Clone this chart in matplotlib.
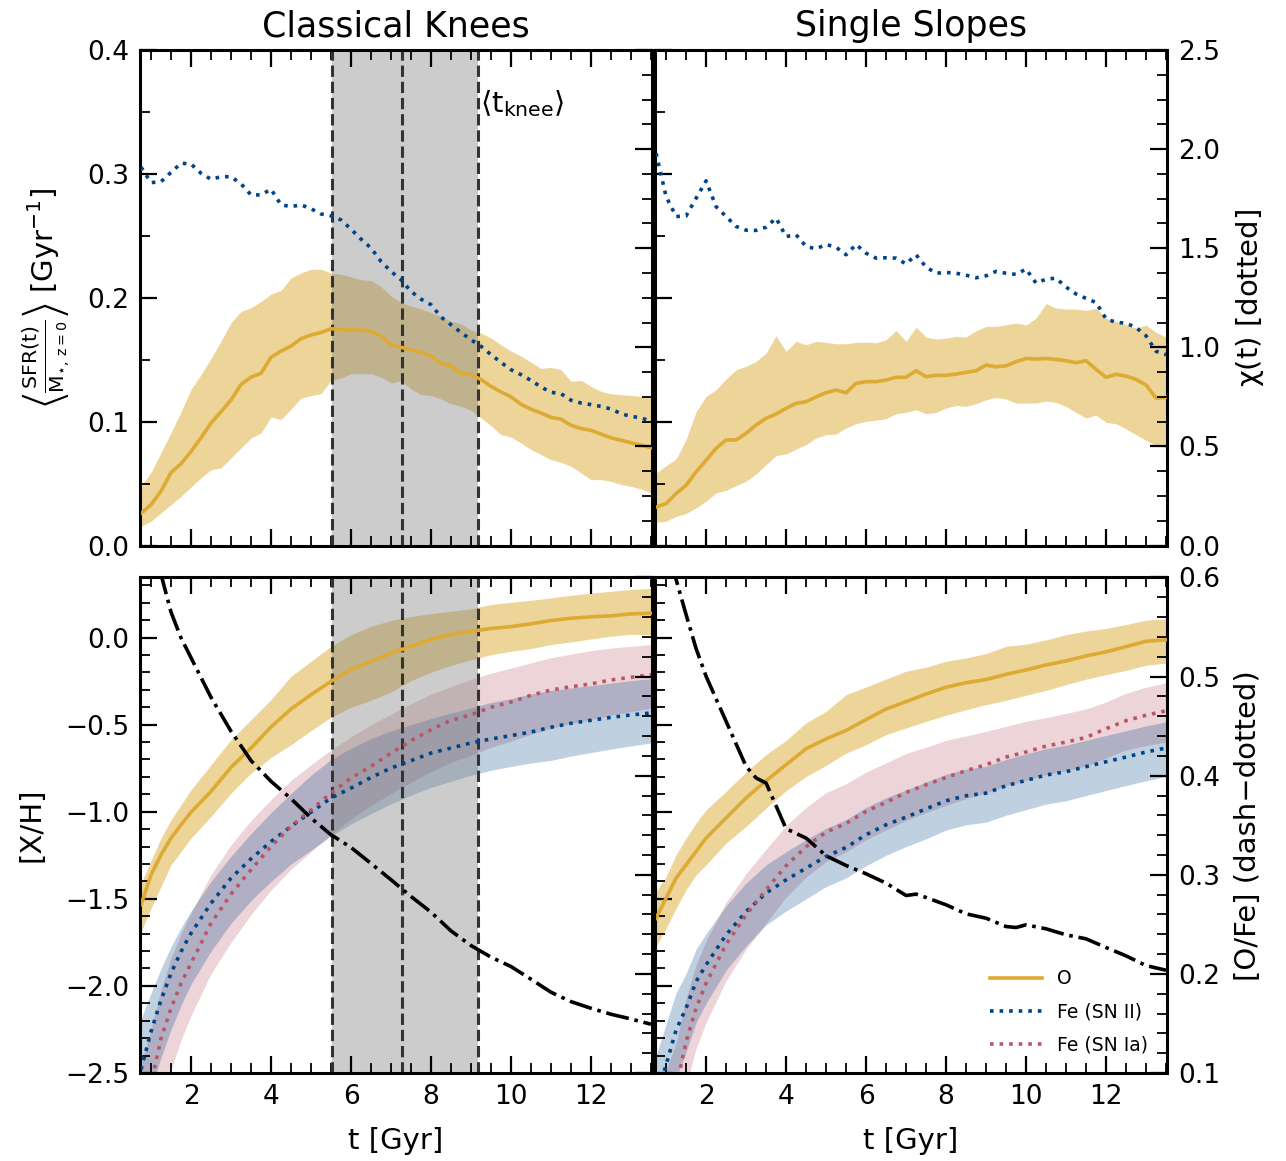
import numpy as np
import matplotlib
matplotlib.use('Agg')
import matplotlib.pyplot as plt
from matplotlib.ticker import MultipleLocator

plt.rcParams['font.family'] = ['DejaVu Sans']
plt.rcParams['mathtext.fontset'] = 'dejavusans'
plt.rcParams['mathtext.default'] = 'regular'

# colours (Tol high-contrast)
c_o = '#DDAA33'
c_fe2 = '#004488'
c_fe1a = '#BB5566'

# ---- top row: SFR / M* and chi(t), 0.25 Gyr sampling ----
t_top = [0.75, 1.0, 1.25, 1.5, 1.75, 2.0, 2.25, 2.5, 2.75, 3.0, 3.25, 3.5, 3.75,
         4.0, 4.25, 4.5, 4.75, 5.0, 5.25, 5.5, 5.75, 6.0, 6.25, 6.5, 6.75, 7.0,
         7.25, 7.5, 7.75, 8.0, 8.25, 8.5, 8.75, 9.0, 9.25, 9.5, 9.75, 10.0, 10.25,
         10.5, 10.75, 11.0, 11.25, 11.5, 11.75, 12.0, 12.25, 12.5, 12.75, 13.0,
         13.25, 13.5]

# classical knees
sfr_ck_med = [0.026, 0.033, 0.044, 0.059, 0.066, 0.076, 0.087, 0.099, 0.108, 0.1175,
              0.130, 0.136, 0.139, 0.152, 0.157, 0.161, 0.167, 0.170, 0.172, 0.175,
              0.1745, 0.174, 0.174, 0.173, 0.169, 0.162, 0.160, 0.158, 0.156, 0.153,
              0.147, 0.145, 0.139, 0.138, 0.134, 0.1285, 0.124, 0.120, 0.114, 0.110,
              0.107, 0.1035, 0.102, 0.097, 0.0945, 0.093, 0.090, 0.087, 0.085, 0.083,
              0.081, 0.079]
sfr_ck_hi = [0.048, 0.059, 0.075, 0.091, 0.108, 0.126, 0.138, 0.151, 0.165, 0.180,
             0.189, 0.192, 0.197, 0.203, 0.206, 0.216, 0.220, 0.223, 0.223, 0.220,
             0.219, 0.217, 0.2145, 0.214, 0.209, 0.2015, 0.196, 0.1935, 0.191, 0.188,
             0.185, 0.181, 0.179, 0.174, 0.1715, 0.1675, 0.162, 0.157, 0.153, 0.148,
             0.143, 0.1438, 0.142, 0.1325, 0.1333, 0.1285, 0.1245, 0.1225, 0.1218,
             0.1212, 0.1204, 0.119]
sfr_ck_lo = [0.0156, 0.0196, 0.0264, 0.033, 0.0397, 0.0473, 0.0546, 0.0613, 0.0626,
             0.0707, 0.0788, 0.0868, 0.0909, 0.1038, 0.1017, 0.1102, 0.119, 0.121,
             0.1226, 0.1333, 0.1352, 0.1387, 0.1387, 0.1387, 0.136, 0.1312, 0.1333,
             0.1263, 0.1218, 0.1212, 0.1183, 0.1145, 0.1124, 0.1092, 0.103, 0.0968,
             0.0895, 0.0876, 0.0828, 0.0774, 0.0734, 0.0693, 0.0672, 0.064, 0.0586,
             0.0532, 0.0532, 0.0519, 0.0492, 0.0478, 0.0457, 0.0425]
chi_ck = [1.909, 1.831, 1.836, 1.883, 1.929, 1.925, 1.878, 1.848, 1.861, 1.861,
          1.825, 1.769, 1.769, 1.798, 1.719, 1.710, 1.719, 1.699, 1.673, 1.663,
          1.643, 1.596, 1.546, 1.501, 1.433, 1.383, 1.341, 1.282, 1.243, 1.215,
          1.153, 1.114, 1.075, 1.038, 1.005, 0.963, 0.924, 0.887, 0.862, 0.833,
          0.800, 0.773, 0.766, 0.733, 0.719, 0.711, 0.702, 0.689, 0.665, 0.652,
          0.644, 0.627]

# single slopes
sfr_ss_med = [0.031, 0.0339, 0.0419, 0.0487, 0.0594, 0.0688, 0.0785, 0.0852, 0.0852,
              0.0906, 0.0973, 0.1027, 0.1062, 0.1108, 0.1148, 0.1161, 0.120, 0.1234,
              0.1255, 0.1234, 0.1309, 0.1323, 0.1323, 0.1336, 0.1358, 0.1358, 0.1411,
              0.1363, 0.1374, 0.1374, 0.1384, 0.1398, 0.1411, 0.1457, 0.1443, 0.1451,
              0.1484, 0.151, 0.1505, 0.151, 0.1502, 0.1492, 0.1476, 0.1492, 0.1422,
              0.1358, 0.1382, 0.1368, 0.1341, 0.1296, 0.119, 0.1196]
sfr_ss_hi = [0.0586, 0.0645, 0.0699, 0.0855, 0.108, 0.1204, 0.1258, 0.1344, 0.1419,
             0.1446, 0.1486, 0.1553, 0.1693, 0.1567, 0.1648, 0.1621, 0.1648, 0.164,
             0.1629, 0.1629, 0.164, 0.1642, 0.1637, 0.1661, 0.1736, 0.1648, 0.1763,
             0.1683, 0.1667, 0.1675, 0.1688, 0.1683, 0.1734, 0.1769, 0.1769, 0.1782,
             0.1796, 0.178, 0.1836, 0.1952, 0.1917, 0.1909, 0.1909, 0.1898, 0.1914,
             0.1836, 0.1809, 0.1782, 0.1755, 0.178, 0.1721, 0.1683]
sfr_ss_lo = [0.0188, 0.0196, 0.0236, 0.0258, 0.0304, 0.0358, 0.0425, 0.0446, 0.0484,
             0.0519, 0.0578, 0.0653, 0.0726, 0.0739, 0.0779, 0.0814, 0.0868, 0.0895,
             0.09, 0.0949, 0.0984, 0.1002, 0.1013, 0.1024, 0.1064, 0.1075, 0.1096,
             0.1064, 0.1075, 0.111, 0.1131, 0.1123, 0.1145, 0.1177, 0.1196, 0.1182,
             0.115, 0.115, 0.115, 0.1166, 0.1155, 0.1123, 0.1075, 0.1029, 0.1053,
             0.0994, 0.0984, 0.0941, 0.0895, 0.085, 0.0807, 0.0788]
chi_ss = [1.979, 1.761, 1.660, 1.663, 1.752, 1.840, 1.710, 1.660, 1.610, 1.591,
          1.590, 1.606, 1.652, 1.559, 1.568, 1.509, 1.497, 1.519, 1.505, 1.467,
          1.519, 1.475, 1.450, 1.452, 1.450, 1.421, 1.467, 1.405, 1.374, 1.378,
          1.374, 1.364, 1.351, 1.361, 1.383, 1.374, 1.368, 1.395, 1.324, 1.344,
          1.349, 1.304, 1.269, 1.247, 1.226, 1.144, 1.126, 1.122, 1.100, 1.058,
          0.980, 0.963]

# ---- bottom row: abundances, 0.5 Gyr sampling ----
t_bot = [0.75, 1.0, 1.25, 1.5, 1.75, 2.0, 2.5, 3.0, 3.5, 4.0, 4.5, 5.0, 5.5, 6.0,
         6.5, 7.0, 7.5, 8.0, 8.5, 9.0, 9.5, 10.0, 10.5, 11.0, 11.5, 12.0, 12.5,
         13.0, 13.5]

# classical knees
oh_ck_med = [-1.534, -1.362, -1.247, -1.151, -1.075, -1.002, -0.883, -0.745, -0.634,
             -0.513, -0.410, -0.328, -0.251, -0.184, -0.136, -0.090, -0.050, -0.011,
             0.017, 0.036, 0.052, 0.063, 0.079, 0.098, 0.111, 0.119, 0.125, 0.136, 0.140]
oh_ck_hi = [-1.410, -1.282, -1.151, -1.046, -0.960, -0.874, -0.730, -0.586, -0.471,
            -0.356, -0.222, -0.136, -0.050, 0.017, 0.065, 0.098, 0.121, 0.138, 0.151,
            0.165, 0.190, 0.203, 0.214, 0.228, 0.243, 0.255, 0.266, 0.276, 0.282]
oh_ck_lo = [-1.688, -1.554, -1.429, -1.305, -1.228, -1.151, -1.027, -0.893, -0.778,
            -0.688, -0.615, -0.534, -0.458, -0.400, -0.360, -0.312, -0.247, -0.199,
            -0.159, -0.128, -0.098, -0.079, -0.063, -0.040, -0.025, -0.008, 0.008,
            0.019, 0.017]
fe2_ck_med = [-2.48, -2.262, -2.080, -1.927, -1.803, -1.697, -1.525, -1.381, -1.270,
              -1.171, -1.084, -1.002, -0.921, -0.864, -0.803, -0.749, -0.707, -0.663,
              -0.634, -0.605, -0.582, -0.563, -0.542, -0.515, -0.492, -0.475, -0.458,
              -0.444, -0.433]
fe2_ck_hi = [-2.19, -2.04, -1.90, -1.775, -1.665, -1.57, -1.40, -1.255, -1.125, -1.005,
             -0.895, -0.79, -0.70, -0.635, -0.58, -0.535, -0.50, -0.465, -0.433, -0.404,
             -0.372, -0.351, -0.324, -0.303, -0.289, -0.276, -0.261, -0.247, -0.236]
fe2_ck_lo = [-2.85, -2.60, -2.41, -2.25, -2.11, -1.99, -1.80, -1.64, -1.51, -1.40,
             -1.30, -1.22, -1.14, -1.07, -1.01, -0.955, -0.905, -0.86, -0.825, -0.79,
             -0.762, -0.74, -0.72, -0.705, -0.68, -0.66, -0.64, -0.622, -0.605]
fe1a_ck_med = [-2.85, -2.56, -2.301, -2.128, -1.985, -1.870, -1.640, -1.473, -1.333,
               -1.199, -1.084, -0.989, -0.893, -0.806, -0.739, -0.663, -0.592, -0.529,
               -0.475, -0.443, -0.400, -0.370, -0.331, -0.301, -0.282, -0.266, -0.243,
               -0.228, -0.213]
fe1a_ck_hi = [-2.45, -2.25, -2.02, -1.84, -1.70, -1.58, -1.36, -1.19, -1.05, -0.93,
              -0.82, -0.73, -0.645, -0.57, -0.50, -0.44, -0.38, -0.325, -0.28, -0.24,
              -0.205, -0.175, -0.145, -0.115, -0.095, -0.075, -0.06, -0.05, -0.04]
fe1a_ck_lo = [-3.2, -2.95, -2.68, -2.48, -2.31, -2.17, -1.93, -1.75, -1.59, -1.45,
              -1.33, -1.23, -1.13, -1.04, -0.965, -0.895, -0.83, -0.77, -0.715, -0.675,
              -0.63, -0.595, -0.555, -0.52, -0.495, -0.47, -0.445, -0.425, -0.405]
ofe_ck = [0.72, 0.66, 0.603, 0.565, 0.539, 0.519, 0.479, 0.4448, 0.4152, 0.3943,
          0.3768, 0.3573, 0.3404, 0.3276, 0.3114, 0.295, 0.2781, 0.2623, 0.2434,
          0.2286, 0.2169, 0.2074, 0.1946, 0.1815, 0.172, 0.1653, 0.1593, 0.1545, 0.1492]

# single slopes
oh_ss_med = [-1.611, -1.496, -1.381, -1.305, -1.228, -1.151, -1.036, -0.921, -0.822,
             -0.730, -0.638, -0.582, -0.533, -0.471, -0.410, -0.368, -0.324, -0.285,
             -0.259, -0.241, -0.211, -0.186, -0.157, -0.134, -0.105, -0.082, -0.052,
             -0.021, -0.013]
oh_ss_hi = [-1.458, -1.372, -1.247, -1.151, -1.065, -0.989, -0.883, -0.772, -0.672,
            -0.590, -0.490, -0.423, -0.328, -0.284, -0.238, -0.193, -0.170, -0.136,
            -0.117, -0.092, -0.050, -0.038, -0.013, 0.017, 0.038, 0.052, 0.075, 0.100, 0.107]
oh_ss_lo = [-1.774, -1.669, -1.554, -1.448, -1.362, -1.305, -1.180, -1.084, -0.979,
            -0.879, -0.797, -0.734, -0.663, -0.615, -0.557, -0.519, -0.481, -0.446,
            -0.414, -0.385, -0.360, -0.331, -0.303, -0.270, -0.239, -0.213, -0.188,
            -0.159, -0.146]
fe2_ss_med = [-2.646, -2.454, -2.253, -2.128, -1.975, -1.879, -1.707, -1.573, -1.467,
              -1.391, -1.324, -1.257, -1.205, -1.132, -1.075, -1.031, -0.983, -0.937,
              -0.908, -0.893, -0.851, -0.820, -0.789, -0.770, -0.741, -0.713, -0.686,
              -0.657, -0.634]
fe2_ss_hi = [-2.40, -2.22, -2.04, -1.93, -1.79, -1.70, -1.54, -1.41, -1.305, -1.23,
             -1.16, -1.095, -1.045, -0.975, -0.92, -0.875, -0.83, -0.785, -0.755, -0.74,
             -0.70, -0.668, -0.638, -0.618, -0.59, -0.562, -0.535, -0.507, -0.484]
fe2_ss_lo = [-2.95, -2.75, -2.53, -2.38, -2.21, -2.10, -1.91, -1.77, -1.65, -1.57,
             -1.50, -1.43, -1.38, -1.31, -1.25, -1.20, -1.155, -1.105, -1.075, -1.06,
             -1.02, -0.988, -0.956, -0.937, -0.907, -0.878, -0.85, -0.822, -0.798]
fe1a_ss_med = [-3.0, -2.75, -2.588, -2.320, -2.128, -1.985, -1.761, -1.592, -1.448,
               -1.310, -1.201, -1.117, -1.067, -0.998, -0.946, -0.889, -0.845, -0.803,
               -0.764, -0.730, -0.686, -0.657, -0.623, -0.600, -0.573, -0.523, -0.477,
               -0.446, -0.420]
fe1a_ss_hi = [-2.70, -2.48, -2.33, -2.07, -1.88, -1.74, -1.52, -1.355, -1.215, -1.08,
              -0.975, -0.89, -0.84, -0.772, -0.72, -0.665, -0.63, -0.59, -0.565, -0.538,
              -0.51, -0.48, -0.46, -0.435, -0.41, -0.37, -0.32, -0.285, -0.26]
fe1a_ss_lo = [-3.3, -3.05, -2.86, -2.57, -2.36, -2.21, -1.97, -1.79, -1.64, -1.49,
              -1.375, -1.285, -1.23, -1.16, -1.105, -1.05, -1.005, -0.963, -0.925,
              -0.892, -0.85, -0.82, -0.787, -0.765, -0.737, -0.69, -0.645, -0.62, -0.60]
t_ofe_ss = [0.75, 1.0, 1.25, 1.5, 1.75, 2.0, 2.5, 3.0, 3.25, 3.5, 4.0, 4.5, 5.0, 5.5,
            6.0, 6.5, 7.0, 7.25, 7.5, 8.0, 8.5, 9.0, 9.5, 9.75, 10.0, 10.5, 11.0, 11.5,
            12.0, 12.5, 13.0, 13.5]
ofe_ss = [0.73, 0.66, 0.598, 0.5626, 0.5283, 0.5003, 0.4549, 0.4094, 0.3977, 0.3926,
          0.3465, 0.337, 0.3192, 0.3094, 0.301, 0.2916, 0.2791, 0.2805, 0.2771, 0.2697,
          0.2606, 0.2562, 0.2478, 0.2468, 0.2495, 0.2455, 0.2394, 0.2354, 0.2266,
          0.2182, 0.2084, 0.2037]

# knee times for the classical-knee sample
knee_lo, knee_mid, knee_hi = 5.53, 7.28, 9.18

fig, axes = plt.subplots(2, 2, figsize=(12.86, 11.61), dpi=100, sharex=True)
fig.subplots_adjust(left=0.1089, right=0.9075, top=0.9569, bottom=0.0758,
                    wspace=0.006, hspace=0.0645)

lw = 2.6
tick_fs = 19
lab_fs = 21


def style_main(ax, major, minor):
    ax.yaxis.set_major_locator(MultipleLocator(major))
    ax.yaxis.set_minor_locator(MultipleLocator(minor))
    ax.xaxis.set_major_locator(MultipleLocator(2))
    ax.xaxis.set_minor_locator(MultipleLocator(0.5))
    ax.tick_params(which='both', direction='in', top=True, right=False, labelsize=tick_fs)
    ax.tick_params(which='major', length=12, width=1.6, pad=8)
    ax.tick_params(which='minor', length=7, width=1.3)
    for s in ax.spines.values():
        s.set_linewidth(2.2)


def style_twin(tx, major, minor):
    tx.yaxis.set_major_locator(MultipleLocator(major))
    tx.yaxis.set_minor_locator(MultipleLocator(minor))
    tx.tick_params(which='both', direction='in', right=True, left=False, labelsize=tick_fs)
    tx.tick_params(which='major', length=12, width=1.6, pad=8)
    tx.tick_params(which='minor', length=7, width=1.3)


def knee_band(ax):
    ax.axvspan(knee_lo, knee_hi, color='gray', alpha=0.4, lw=0, zorder=1.5)
    for k in (knee_lo, knee_mid, knee_hi):
        ax.axvline(k, color='#333333', ls='--', lw=2.2, zorder=1.6)


# top row
for col, (med, hi, lo, chi) in enumerate([(sfr_ck_med, sfr_ck_hi, sfr_ck_lo, chi_ck),
                                          (sfr_ss_med, sfr_ss_hi, sfr_ss_lo, chi_ss)]):
    ax = axes[0, col]
    ax.fill_between(t_top, lo, hi, color=c_o, alpha=0.5, lw=0, zorder=1)
    ax.plot(t_top, med, color=c_o, lw=lw, zorder=3)
    ax.set_ylim(0, 0.4)
    ax.set_xlim(0.725, 13.525)
    style_main(ax, 0.1, 0.05)
    tx = ax.twinx()
    tx.plot(t_top, chi, color=c_fe2, ls=':', lw=lw)
    tx.set_ylim(0, 2.5)
    style_twin(tx, 0.5, 0.125)
    if col == 0:
        knee_band(ax)
        tx.tick_params(labelright=False)
        ax.set_ylabel(r'$\left\langle\frac{\mathrm{SFR}(t)}{M_{\star,\,z=0}}\right\rangle$ [Gyr$^{-1}$]',
                      fontsize=lab_fs, labelpad=10)
        ax.text(9.22, 0.357, r'$\langle t_{\rm knee}\rangle$', fontsize=21,
                ha='left', va='center')
        ax.set_title('Classical Knees', fontsize=25, pad=10)
    else:
        ax.tick_params(labelleft=False)
        tx.set_ylabel(r'$\chi(t)$ [dotted]', fontsize=lab_fs, labelpad=10)
        ax.set_title('Single Slopes', fontsize=25, pad=10)

# bottom row
bot = [(oh_ck_med, oh_ck_hi, oh_ck_lo, fe2_ck_med, fe2_ck_hi, fe2_ck_lo,
        fe1a_ck_med, fe1a_ck_hi, fe1a_ck_lo, t_bot, ofe_ck),
       (oh_ss_med, oh_ss_hi, oh_ss_lo, fe2_ss_med, fe2_ss_hi, fe2_ss_lo,
        fe1a_ss_med, fe1a_ss_hi, fe1a_ss_lo, t_ofe_ss, ofe_ss)]
for col, d in enumerate(bot):
    (om, oh, ol, f2m, f2h, f2l, f1m, f1h, f1l, tof, ofe) = d
    ax = axes[1, col]
    ax.fill_between(t_bot, ol, oh, color=c_o, alpha=0.5, lw=0, zorder=1)
    ax.fill_between(t_bot, f1l, f1h, color=c_fe1a, alpha=0.25, lw=0, zorder=1)
    ax.fill_between(t_bot, f2l, f2h, color=c_fe2, alpha=0.25, lw=0, zorder=1)
    ax.plot(t_bot, om, color=c_o, lw=lw, zorder=3, label='O')
    ax.plot(t_bot, f2m, color=c_fe2, ls=':', lw=lw, zorder=3, label='Fe (SN II)')
    ax.plot(t_bot, f1m, color=c_fe1a, ls=':', lw=lw, zorder=3, label='Fe (SN Ia)')
    ax.set_ylim(-2.5, 0.345)
    style_main(ax, 0.5, 0.1)
    tx = ax.twinx()
    tx.plot(tof, ofe, color='k', ls='-.', lw=lw)
    tx.set_ylim(0.1, 0.6)
    style_twin(tx, 0.1, 0.02)
    ax.set_xlabel('t [Gyr]', fontsize=lab_fs, labelpad=12)
    if col == 0:
        knee_band(ax)
        tx.tick_params(labelright=False)
        ax.set_ylabel('[X/H]', fontsize=lab_fs, labelpad=14)
    else:
        ax.tick_params(labelleft=False)
        tx.set_ylabel('[O/Fe] (dash\u2212dotted)', fontsize=lab_fs, labelpad=10)
        ax.legend(loc='lower right', frameon=False, fontsize=13.5,
                  handlelength=2.8, borderaxespad=0.6, labelspacing=0.75)

fig.savefig('out.png', dpi=100)
